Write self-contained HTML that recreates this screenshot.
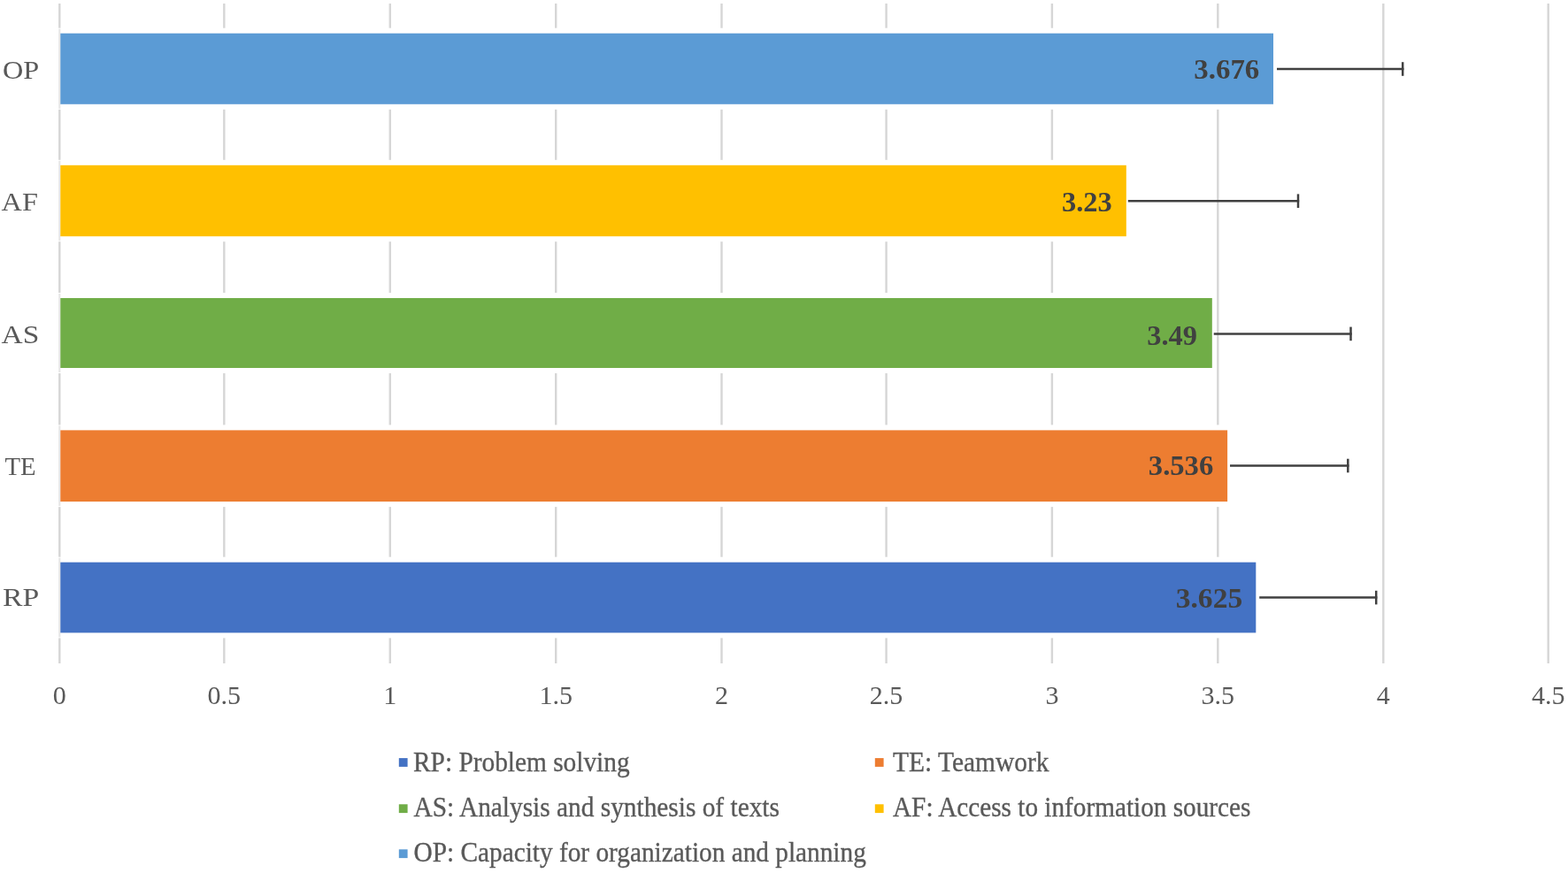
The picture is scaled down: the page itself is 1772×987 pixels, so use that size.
<!DOCTYPE html>
<html><head><meta charset="utf-8"><title>Chart</title>
<style>
html,body{margin:0;padding:0;background:#fff;}
body{width:1772px;height:987px;overflow:hidden;}
svg{display:block;}
text{font-family:"Liberation Serif","Times New Roman",serif;}
.dl{font-size:30.5px;font-weight:bold;fill:#404040;}
.cat{font-size:30px;fill:#595959;}
.ax{font-size:30px;fill:#595959;}
.lg{font-size:32.5px;fill:#595959;stroke:#595959;stroke-width:0.35px;}
</style></head><body>
<svg width="1772" height="987" viewBox="0 0 1772 987">
<line x1="67.3" y1="4" x2="67.3" y2="750" stroke="#D6D6D6" stroke-width="2.4"/>
<line x1="253.3" y1="4" x2="253.3" y2="750" stroke="#D6D6D6" stroke-width="2.4"/>
<line x1="440.8" y1="4" x2="440.8" y2="750" stroke="#D6D6D6" stroke-width="2.4"/>
<line x1="628.2" y1="4" x2="628.2" y2="750" stroke="#D6D6D6" stroke-width="2.4"/>
<line x1="815.5" y1="4" x2="815.5" y2="750" stroke="#D6D6D6" stroke-width="2.4"/>
<line x1="1001.6" y1="4" x2="1001.6" y2="750" stroke="#D6D6D6" stroke-width="2.4"/>
<line x1="1188.9" y1="4" x2="1188.9" y2="750" stroke="#D6D6D6" stroke-width="2.4"/>
<line x1="1376.3" y1="4" x2="1376.3" y2="750" stroke="#D6D6D6" stroke-width="2.4"/>
<line x1="1563.3" y1="4" x2="1563.3" y2="750" stroke="#D6D6D6" stroke-width="2.4"/>
<line x1="1749.7" y1="4" x2="1749.7" y2="750" stroke="#D6D6D6" stroke-width="2.4"/>
<rect x="62.3" y="31.7" width="1381.2" height="92.1" fill="#fff"/>
<line x1="67.3" y1="32.7" x2="67.3" y2="122.8" stroke="#E6E6E6" stroke-width="2.2"/>
<rect x="68.3" y="37.7" width="1370.7" height="80.1" fill="#5B9BD5"/>
<rect x="62.3" y="180.8" width="1215.0" height="92.4" fill="#fff"/>
<line x1="67.3" y1="181.8" x2="67.3" y2="272.2" stroke="#E6E6E6" stroke-width="2.2"/>
<rect x="68.3" y="186.8" width="1204.5" height="80.4" fill="#FFC000"/>
<rect x="62.3" y="331.0" width="1312.0" height="91.0" fill="#fff"/>
<line x1="67.3" y1="332.0" x2="67.3" y2="421.0" stroke="#E6E6E6" stroke-width="2.2"/>
<rect x="68.3" y="337.0" width="1301.5" height="79.0" fill="#70AD47"/>
<rect x="62.3" y="480.4" width="1329.3" height="92.7" fill="#fff"/>
<line x1="67.3" y1="481.4" x2="67.3" y2="572.1" stroke="#E6E6E6" stroke-width="2.2"/>
<rect x="68.3" y="486.4" width="1318.8" height="80.7" fill="#ED7D31"/>
<rect x="62.3" y="629.7" width="1361.5" height="91.7" fill="#fff"/>
<line x1="67.3" y1="630.7" x2="67.3" y2="720.4" stroke="#E6E6E6" stroke-width="2.2"/>
<rect x="68.3" y="635.7" width="1351.0" height="79.7" fill="#4472C4"/>
<line x1="1443.0" y1="78.0" x2="1586.4" y2="78.0" stroke="#404040" stroke-width="2.5"/>
<line x1="1585.2" y1="70.2" x2="1585.2" y2="85.8" stroke="#404040" stroke-width="2.5"/>
<line x1="1274.8" y1="227.2" x2="1468.2" y2="227.2" stroke="#404040" stroke-width="2.5"/>
<line x1="1467.0" y1="219.4" x2="1467.0" y2="235.0" stroke="#404040" stroke-width="2.5"/>
<line x1="1371.7" y1="377.4" x2="1527.7" y2="377.4" stroke="#404040" stroke-width="2.5"/>
<line x1="1526.5" y1="369.6" x2="1526.5" y2="385.2" stroke="#404040" stroke-width="2.5"/>
<line x1="1390.0" y1="526.5" x2="1524.5" y2="526.5" stroke="#404040" stroke-width="2.5"/>
<line x1="1523.3" y1="518.7" x2="1523.3" y2="534.3" stroke="#404040" stroke-width="2.5"/>
<line x1="1423.2" y1="675.6" x2="1556.4" y2="675.6" stroke="#404040" stroke-width="2.5"/>
<line x1="1555.2" y1="667.8" x2="1555.2" y2="683.4" stroke="#404040" stroke-width="2.5"/>
<rect x="450.8" y="857.1" width="9.8" height="9.8" fill="#4472C4"/>
<rect x="988.8" y="857.1" width="9.8" height="9.8" fill="#ED7D31"/>
<rect x="450.8" y="909.3" width="9.8" height="9.8" fill="#70AD47"/>
<rect x="988.8" y="909.3" width="9.8" height="9.8" fill="#FFC000"/>
<rect x="450.8" y="960.3" width="9.8" height="9.8" fill="#5B9BD5"/>
<text x="67.3" y="795.8" text-anchor="middle" class="ax">0</text>
<text x="253.3" y="795.8" text-anchor="middle" class="ax">0.5</text>
<text x="440.8" y="795.8" text-anchor="middle" class="ax">1</text>
<text x="628.2" y="795.8" text-anchor="middle" class="ax">1.5</text>
<text x="815.5" y="795.8" text-anchor="middle" class="ax">2</text>
<text x="1001.6" y="795.8" text-anchor="middle" class="ax">2.5</text>
<text x="1188.9" y="795.8" text-anchor="middle" class="ax">3</text>
<text x="1376.3" y="795.8" text-anchor="middle" class="ax">3.5</text>
<text x="1563.3" y="795.8" text-anchor="middle" class="ax">4</text>
<text x="1749.7" y="795.8" text-anchor="middle" class="ax">4.5</text>
<text x="3.00" y="88.50" class="cat" textLength="41.25" lengthAdjust="spacingAndGlyphs">OP</text>
<text x="1.60" y="237.70" class="cat" textLength="41.28" lengthAdjust="spacingAndGlyphs">AF</text>
<text x="1.60" y="387.70" class="cat" textLength="42.76" lengthAdjust="spacingAndGlyphs">AS</text>
<text x="5.40" y="536.90" class="cat" textLength="35.13" lengthAdjust="spacingAndGlyphs">TE</text>
<text x="3.00" y="685.30" class="cat" textLength="41.23" lengthAdjust="spacingAndGlyphs">RP</text>
<text x="1349.30" y="89.40" class="dl" textLength="73.96" lengthAdjust="spacingAndGlyphs">3.676</text>
<text x="1200.00" y="238.60" class="dl" textLength="56.82" lengthAdjust="spacingAndGlyphs">3.23</text>
<text x="1296.30" y="389.60" class="dl" textLength="56.68" lengthAdjust="spacingAndGlyphs">3.49</text>
<text x="1297.80" y="537.00" class="dl" textLength="73.48" lengthAdjust="spacingAndGlyphs">3.536</text>
<text x="1328.70" y="687.40" class="dl" textLength="75.52" lengthAdjust="spacingAndGlyphs">3.625</text>
<text x="467.00" y="871.60" class="lg" textLength="244.61" lengthAdjust="spacingAndGlyphs">RP: Problem solving</text>
<text x="1009.00" y="871.60" class="lg" textLength="176.51" lengthAdjust="spacingAndGlyphs">TE: Teamwork</text>
<text x="467.60" y="923.20" class="lg" textLength="413.31" lengthAdjust="spacingAndGlyphs">AS: Analysis and synthesis of texts</text>
<text x="1009.00" y="923.20" class="lg" textLength="404.40" lengthAdjust="spacingAndGlyphs">AF: Access to information sources</text>
<text x="467.60" y="973.70" class="lg" textLength="511.21" lengthAdjust="spacingAndGlyphs">OP: Capacity for organization and planning</text>
</svg>
</body></html>
